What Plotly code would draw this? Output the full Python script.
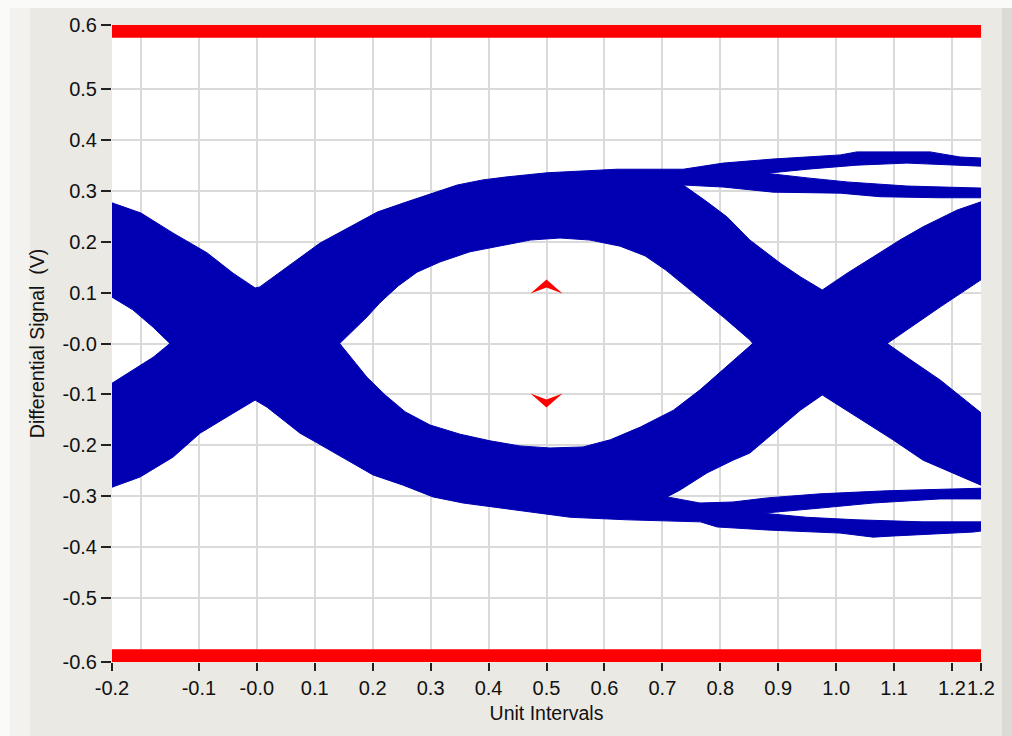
import plotly.graph_objects as go

# ---------------- axes / ticks ----------------
x_range = [-0.25, 1.25]
y_range = [-0.625, 0.625]
x_tickvals = [-0.25, -0.1, 0.0, 0.1, 0.2, 0.3, 0.4, 0.5, 0.6, 0.7, 0.8, 0.9, 1.0, 1.1, 1.2, 1.25]
x_ticktext = ["-0.2", "-0.1", "-0.0", "0.1", "0.2", "0.3", "0.4", "0.5", "0.6", "0.7",
              "0.8", "0.9", "1.0", "1.1", "1.2", "1.2"]
x_extra_grid = [-0.2]
y_tickvals = [-0.625, -0.5, -0.4, -0.3, -0.2, -0.1, 0.0, 0.1, 0.2, 0.3, 0.4, 0.5, 0.625]
y_ticktext = ["-0.6", "-0.5", "-0.4", "-0.3", "-0.2", "-0.1", "-0.0",
              "0.1", "0.2", "0.3", "0.4", "0.5", "0.6"]

# ---------------- mask limits (V) ----------------
mask_upper = [0.6, 0.625]
mask_lower = [-0.6, -0.625]
# eye-mask markers
marker_x = [0.5, 0.5]
marker_y = [0.1, -0.1]

# ---------------- eye-diagram outlines (UI, V) ----------------
# upper envelope of the trace bundle
top_env_x = [-0.25, -0.20, -0.145, -0.086, -0.041, -0.003, 0.005, 0.045, 0.109, 0.161, 0.208,
             0.259, 0.311, 0.346, 0.390, 0.432, 0.501, 0.563, 0.622, 0.679, 0.736, 0.805,
             0.891, 1.007, 1.036, 1.162, 1.214, 1.25]
top_env_y = [0.276, 0.256, 0.217, 0.178, 0.138, 0.109, 0.111, 0.144, 0.197, 0.229, 0.258,
             0.278, 0.297, 0.311, 0.321, 0.327, 0.335, 0.339, 0.342, 0.342, 0.342, 0.354,
             0.362, 0.370, 0.376, 0.376, 0.366, 0.364]
# thin gap between the two upper tail bands
gapE_top_x = [0.880, 0.950, 1.036, 1.122, 1.25]
gapE_top_y = [0.334, 0.342, 0.350, 0.354, 0.348]
gapE_bot_x = [0.880, 0.950, 1.019, 1.122, 1.25]
gapE_bot_y = [0.334, 0.325, 0.317, 0.309, 0.305]
# gap above the right crossing
gapD_top_x = [0.736, 0.805, 0.891, 1.007, 1.076, 1.178, 1.25]
gapD_top_y = [0.311, 0.307, 0.297, 0.295, 0.288, 0.286, 0.286]
gapD_left_x = [0.736, 0.777, 0.812, 0.851, 0.903, 0.938, 0.976]
gapD_left_y = [0.311, 0.278, 0.248, 0.203, 0.158, 0.131, 0.105]
gapD_right_x = [0.976, 1.019, 1.064, 1.110, 1.150, 1.209, 1.25]
gapD_right_y = [0.105, 0.138, 0.170, 0.203, 0.229, 0.262, 0.278]
# right-hand eye opening
eyeC_top_x = [1.088, 1.122, 1.180, 1.25]
eyeC_top_y = [0.0, 0.027, 0.072, 0.125]
eyeC_bot_x = [1.088, 1.122, 1.180, 1.25]
eyeC_bot_y = [0.0, -0.027, -0.072, -0.136]
# main eye opening
eye_top_x = [0.143, 0.155, 0.190, 0.2125, 0.244, 0.2765, 0.316, 0.368, 0.420, 0.472, 0.5235,
             0.575, 0.627, 0.670, 0.706, 0.748, 0.805, 0.851, 0.856]
eye_top_y = [0.0, 0.013, 0.052, 0.080, 0.113, 0.140, 0.160, 0.180, 0.191, 0.203, 0.207,
             0.203, 0.191, 0.172, 0.144, 0.105, 0.052, 0.007, 0.0]
eye_bot_x = [0.143, 0.190, 0.2215, 0.256, 0.299, 0.351, 0.4025, 0.454, 0.506, 0.563, 0.610,
             0.662, 0.719, 0.765, 0.805, 0.856]
eye_bot_y = [0.0, -0.066, -0.101, -0.134, -0.160, -0.178, -0.191, -0.201, -0.205, -0.203,
             -0.189, -0.164, -0.131, -0.091, -0.052, 0.0]
# left-hand eye opening
eyeA_top_x = [-0.25, -0.214, -0.179, -0.150]
eyeA_top_y = [0.091, 0.066, 0.032, 0.0]
eyeA_bot_x = [-0.25, -0.214, -0.179, -0.150]
eyeA_bot_y = [-0.078, -0.052, -0.027, 0.0]
# lower envelope of the trace bundle
bot_env_x = [-0.25, -0.2016, -0.1447, -0.098, -0.0515, -0.003, 0.0176, 0.0746, 0.104, 0.2007,
             0.2525, 0.304, 0.356, 0.449, 0.541, 0.6395, 0.7655, 0.7946, 0.881, 1.0067, 1.064,
             1.093, 1.1676, 1.2366, 1.25]
bot_env_y = [-0.282, -0.262, -0.223, -0.176, -0.144, -0.111, -0.125, -0.176, -0.195, -0.258,
             -0.278, -0.301, -0.313, -0.327, -0.341, -0.346, -0.350, -0.360, -0.366, -0.372,
             -0.380, -0.378, -0.374, -0.370, -0.368]
# thin gap between the two lower tail bands
gapE2_bot_x = [0.874, 0.949, 1.036, 1.150, 1.25]
gapE2_bot_y = [-0.333, -0.341, -0.346, -0.350, -0.350]
gapE2_top_x = [0.874, 0.972, 1.064, 1.179, 1.25]
gapE2_top_y = [-0.333, -0.323, -0.313, -0.305, -0.305]
# gap below the right crossing
gapD2_bot_x = [0.708, 0.765, 0.822, 0.881, 0.972, 1.088, 1.179, 1.25]
gapD2_bot_y = [-0.301, -0.313, -0.311, -0.303, -0.295, -0.289, -0.286, -0.284]
gapD2_left_x = [0.708, 0.730, 0.777, 0.822, 0.851, 0.891, 0.938, 0.976]
gapD2_left_y = [-0.301, -0.288, -0.254, -0.229, -0.215, -0.176, -0.131, -0.101]
gapD2_right_x = [0.976, 1.036, 1.098, 1.150, 1.209, 1.25]
gapD2_right_y = [-0.101, -0.144, -0.189, -0.229, -0.258, -0.278]

BLUE = "#0000B2"
RED = "#FF0000"
FONT = "Liberation Sans"


def rev(a):
    return list(a)[::-1]


# upper half of the bundle (one outline, the openings reached from the plot edges)
upper_x = (top_env_x + rev(gapE_top_x) + gapE_bot_x[1:] + rev(gapD_top_x) + gapD_left_x[1:]
           + gapD_right_x[1:] + rev(eyeC_top_x) + rev(eye_top_x) + rev(eyeA_top_x))
upper_y = (top_env_y + rev(gapE_top_y) + gapE_bot_y[1:] + rev(gapD_top_y) + gapD_left_y[1:]
           + gapD_right_y[1:] + rev(eyeC_top_y) + rev(eye_top_y) + rev(eyeA_top_y))
# lower half of the bundle
lower_x = (bot_env_x + rev(gapE2_bot_x) + gapE2_top_x[1:] + rev(gapD2_bot_x) + gapD2_left_x[1:]
           + gapD2_right_x[1:] + rev(eyeC_bot_x) + rev(eye_bot_x) + rev(eyeA_bot_x))
lower_y = (bot_env_y + rev(gapE2_bot_y) + gapE2_top_y[1:] + rev(gapD2_bot_y) + gapD2_left_y[1:]
           + gapD2_right_y[1:] + rev(eyeC_bot_y) + rev(eye_bot_y) + rev(eyeA_bot_y))

fig = go.Figure()
for xs, ys in [(upper_x, upper_y), (lower_x, lower_y)]:
    fig.add_trace(go.Scatter(x=xs, y=ys, mode="lines", fill="toself", fillcolor=BLUE,
                             line=dict(color=BLUE, width=1), hoverinfo="skip",
                             showlegend=False))

# red mask bars
for lim in (mask_upper, mask_lower):
    fig.add_trace(go.Scatter(
        x=[x_range[0], x_range[1], x_range[1], x_range[0]],
        y=[lim[0], lim[0], lim[1], lim[1]],
        mode="lines", fill="toself", fillcolor=RED, line=dict(color=RED, width=0),
        hoverinfo="skip", showlegend=False))

shapes = []
# eye-mask chevrons (pixel-sized, anchored at data positions)
for mx, my in zip(marker_x, marker_y):
    s = 1 if my > 0 else -1
    shapes.append(dict(type="path", xref="x", yref="y", xsizemode="pixel", ysizemode="pixel",
                       xanchor=mx, yanchor=my,
                       path=f"M-16,{-1*s} L0,{13*s} L16,{-1*s} L0,{5*s} Z",
                       fillcolor=RED, line=dict(width=0), layer="above"))

# window-frame decorations
W, H, ML, MR, MT, MB = 1012, 736, 112, 31, 25, 74
PW, PH = W - ML - MR, H - MT - MB
def px(xp):
    return (xp - ML) / PW
def py(yp):
    return (H - MB - yp) / PH
shapes += [
    dict(type="rect", xref="paper", yref="paper", x0=px(0), x1=px(10), y0=py(H), y1=py(0),
         fillcolor="#FAFAF8", line=dict(width=0), layer="below"),
    dict(type="rect", xref="paper", yref="paper", x0=px(10), x1=px(30), y0=py(H), y1=py(8),
         fillcolor="#F3F2EE", line=dict(width=0), layer="below"),
    dict(type="rect", xref="paper", yref="paper", x0=px(0), x1=px(W), y0=py(8), y1=py(0),
         fillcolor="#FAFAF8", line=dict(width=0), layer="below"),
    dict(type="rect", xref="paper", yref="paper", x0=px(1002), x1=px(W), y0=py(H), y1=py(8),
         fillcolor="#DCDAD5", line=dict(width=0), layer="below"),
]

fig.update_layout(
    width=W, height=H,
    margin=dict(l=ML, r=MR, t=MT, b=MB, pad=0),
    paper_bgcolor="#EBE9E4", plot_bgcolor="#FFFFFF",
    font=dict(family=FONT, size=20, color="#111111"),
    shapes=shapes,
    xaxis=dict(range=x_range, tickmode="array", tickvals=x_tickvals, ticktext=x_ticktext,
               tickangle=0, ticks="outside", ticklen=8, tickwidth=1.5, tickcolor="#222",
               showgrid=True, gridcolor="#DADADA", gridwidth=1.5, zeroline=False,
               showline=False, fixedrange=True,
               minor=dict(tickvals=x_extra_grid, showgrid=True, gridcolor="#DADADA",
                          gridwidth=1.5, ticks=""),
               title=dict(text="Unit Intervals", font=dict(size=19.5), standoff=8)),
    yaxis=dict(range=y_range, tickmode="array", tickvals=y_tickvals, ticktext=y_ticktext,
               ticks="outside", ticklen=10, tickwidth=1.5, tickcolor="#222",
               showgrid=True, gridcolor="#DADADA", gridwidth=1.5, zeroline=False,
               showline=False, fixedrange=True,
               title=dict(text="Differential Signal\u00a0 (V)", font=dict(size=19.5),
                          standoff=12)),
)

fig.write_html("out.html")
